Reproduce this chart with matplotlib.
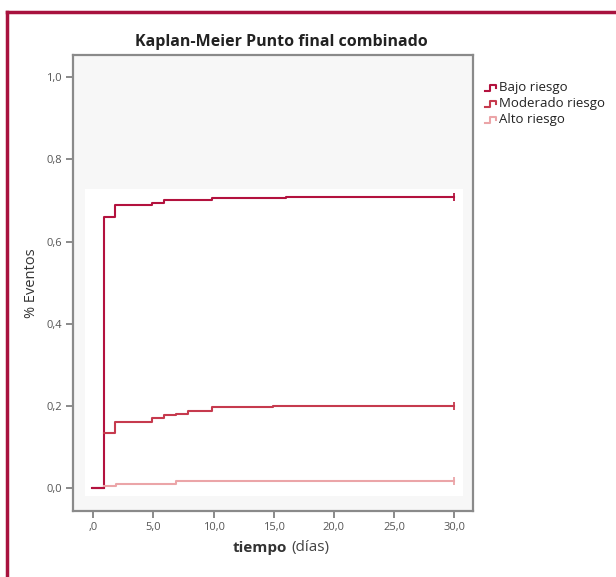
import numpy as np
import matplotlib.pyplot as plt
from matplotlib.lines import Line2D
from matplotlib.patches import Rectangle

plt.rcParams['font.family'] = ['Open Sans', 'DejaVu Sans']

# step data (time in days, cumulative events)
t_bajo = [0, 0.86, 1.83, 4.88, 5.85, 9.84, 16.0, 30.0]
y_bajo = [0, 0.660, 0.689, 0.693, 0.702, 0.706, 0.708, 0.708]
t_mod = [0.86, 1.83, 4.88, 5.85, 6.85, 7.9, 9.9, 14.9, 30.0]
y_mod = [0.133, 0.161, 0.171, 0.178, 0.180, 0.187, 0.196, 0.200, 0.200]
t_alto = [0.86, 1.9, 6.9, 30.0]
y_alto = [0.005, 0.010, 0.016, 0.016]

names = ['Bajo riesgo', 'Moderado riesgo', 'Alto riesgo']
colors = ['#b3123e', '#c63a4e', '#eba5a8']
xticks = [0, 5, 10, 15, 20, 25, 30]
yticks = [0, 0.2, 0.4, 0.6, 0.8, 1.0]

fig = plt.figure(figsize=(6.16, 5.77), dpi=100)
ax = fig.add_axes([73/616, 1-511/577, 400/616, 456/577])
ax.set_facecolor('#f7f7f7')
ax.add_patch(Rectangle((-0.69, -0.02), 31.45, 0.747, facecolor='white', edgecolor='none', zorder=0))

series = [(t_bajo, y_bajo), (t_mod, y_mod), (t_alto, y_alto)]
for (t, y), c in zip(series, colors):
    ax.step(t, y, where='post', color=c, lw=1.5, zorder=3)
    ax.plot(t[-1], y[-1], marker='|', ms=6, mew=1.3, color=c, zorder=4)
# horizontal start segment of Bajo riesgo
ax.plot([-0.1, 0.86], [0, 0], color=colors[0], lw=1.5, zorder=3)

ax.set_xlim(-1.69, 31.56)
ax.set_ylim(-0.056, 1.054)
ax.set_xticks(xticks)
ax.set_xticklabels([',0'] + ['%d,0' % v for v in xticks[1:]])
ax.set_yticks(yticks)
ax.set_yticklabels(['0,0', '0,2', '0,4', '0,6', '0,8', '1,0'])
ax.tick_params(direction='out', length=5, width=1.2, color='#777777',
               labelsize=8, labelcolor='#555555', pad=3)
for s in ax.spines.values():
    s.set_color('#8a8a8a')
    s.set_linewidth(1.6)

ax.set_ylabel('% Eventos', fontsize=10.5, color='#333333', labelpad=5)
fig.text(287/616, 1-548/577, 'tiempo', fontsize=11, fontweight='bold', color='#333333',
         ha='right', va='center')
fig.text(291/616, 1-548/577, '(días)', fontsize=11, color='#444444', ha='left', va='center')
fig.text(281/616, 1-42/577, 'Kaplan-Meier Punto final combinado', fontsize=11.5,
         fontweight='bold', color='#222222', ha='center', va='center')

# legend with step-shaped icons
for i, (n, c) in enumerate(zip(names, colors)):
    yc = 1 - (88 + 16*i)/577
    dy = 6/577
    xs = np.array([485, 490, 490, 496, 496]) / 616
    ys = [yc - dy/2, yc - dy/2, yc + dy/2, yc + dy/2, yc]
    fig.add_artist(Line2D(xs, ys, color=c, lw=1.5))
    fig.text(499/616, yc, n, fontsize=9.5, color='#222222', va='center', ha='left')

# outer red frame
fc = '#a8123e'
fig.add_artist(Line2D([7/616, 1.0], [1-12/577, 1-12/577], color=fc, lw=2.5))
fig.add_artist(Line2D([7/616, 7/616], [0, 1-12/577], color=fc, lw=2.5))

fig.savefig('out.png', dpi=100)
